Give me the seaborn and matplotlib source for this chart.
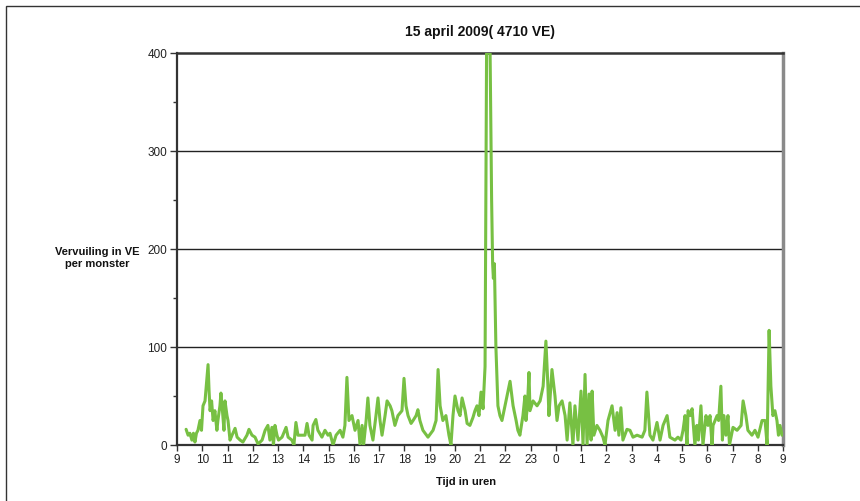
import numpy as np
import pandas as pd
import matplotlib
matplotlib.use("Agg")
import matplotlib.pyplot as plt
from matplotlib.patches import Rectangle
import seaborn as sns

# Time in hours after 9:00 on 15 april, pollution in VE per sample
uren = [
    0.36, 0.44, 0.51, 0.59, 0.65, 0.71, 0.77, 0.83, 0.91, 0.97,
    1.03, 1.11, 1.19, 1.23, 1.27, 1.31, 1.37, 1.43, 1.50, 1.58,
    1.62, 1.70, 1.74, 1.80, 1.86, 1.90, 1.98, 2.02, 2.10, 2.18,
    2.30, 2.38, 2.50, 2.61, 2.77, 2.85, 2.97, 3.09, 3.21, 3.37,
    3.49, 3.60, 3.68, 3.76, 3.82, 3.88, 3.96, 4.02, 4.16, 4.32,
    4.40, 4.55, 4.63, 4.71, 4.79, 4.95, 5.07, 5.15, 5.23, 5.35,
    5.39, 5.50, 5.58, 5.74, 5.86, 5.98,
    6.06, 6.18, 6.30, 6.46, 6.57, 6.65, 6.73, 6.81, 6.93, 7.05,
    7.17, 7.25, 7.33, 7.39, 7.49, 7.56, 7.64, 7.76, 7.88, 7.96,
    8.04, 8.12, 8.24, 8.32, 8.44, 8.51, 8.63, 8.75, 8.91, 8.99,
    9.07, 9.15, 9.27, 9.35, 9.47, 9.54, 9.62, 9.74, 9.94, 10.14,
    10.26, 10.34, 10.42, 10.53, 10.65, 10.77, 10.85, 10.93, 11.01, 11.13,
    11.21, 11.29, 11.41, 11.49, 11.60, 11.72, 11.80, 11.88, 11.96, 12.04,
    12.12, 12.20, 12.26, 12.32, 12.40, 12.46, 12.50, 12.53, 12.57, 12.63,
    12.71, 12.79, 12.87, 12.99, 13.11, 13.19, 13.31, 13.43, 13.50, 13.58,
    13.70, 13.78, 13.82, 13.88, 13.94, 13.98, 14.10, 14.26, 14.38, 14.50,
    14.61, 14.69, 14.73, 14.85, 14.97, 15.05, 15.13, 15.25, 15.37, 15.45,
    15.56, 15.68, 15.76, 15.88, 16.00, 16.08, 16.16, 16.24, 16.32, 16.40,
    16.44, 16.51, 16.63, 16.75, 16.87, 16.95, 17.07, 17.23, 17.35, 17.43,
    17.50, 17.58, 17.66, 17.82, 17.94, 18.06, 18.22, 18.42, 18.53, 18.61,
    18.73, 18.85, 19.01, 19.13, 19.25, 19.41, 19.52, 19.72, 19.84, 19.96,
    20.04, 20.12, 20.20, 20.24, 20.32, 20.40, 20.48, 20.51, 20.59, 20.65,
    20.75, 20.83, 20.95, 21.03, 21.11, 21.19, 21.23, 21.39, 21.45, 21.54,
    21.60, 21.66, 21.74, 21.82, 21.88, 22.02, 22.18, 22.34, 22.42, 22.53,
    22.61, 22.77, 22.89, 23.01, 23.17, 23.29, 23.37, 23.45, 23.52, 23.60,
    23.68, 23.76, 23.82, 23.88, 23.96,
]
vervuiling = [
    16, 10, 12, 5, 12, 3, 12, 15, 25, 15,
    40, 45, 70, 82, 55, 35, 45, 25, 35, 15,
    25, 40, 53, 35, 15, 45, 30, 25, 5, 10,
    17, 8, 5, 3, 10, 16, 10, 8, 1, 5,
    15, 20, 5, 18, 0, 20, 10, 5, 8, 18,
    8, 5, 0, 23, 10, 10, 10, 22, 10, 5,
    20, 26, 15, 8, 15, 10,
    12, 0, 10, 15, 8, 20, 69, 25, 30, 15,
    25, 0, 20, 0, 25, 48, 20, 5, 30, 48,
    25, 10, 30, 45, 40, 35, 20, 30, 35, 68,
    40, 30, 22, 25, 30, 36, 25, 15, 8, 15,
    25, 77, 40, 25, 30, 10, 0, 30, 50, 35,
    30, 48, 35, 22, 20, 28, 35, 40, 30, 54,
    37, 80, 400, 400, 400, 250, 185, 170, 185, 100,
    40, 30, 25, 40, 55, 65, 40, 25, 15, 10,
    30, 50, 25, 40, 74, 35, 45, 40, 45, 60,
    106, 60, 30, 77, 50, 25, 40, 45, 30, 5,
    43, 0, 40, 5, 55, 0, 72, 0, 52, 5,
    55, 10, 20, 15, 8, 0, 25, 40, 15, 33,
    10, 38, 5, 16, 15, 8, 10, 8, 15, 54,
    10, 5, 23, 5, 20, 30, 8, 5, 8, 5,
    15, 30, 0, 35, 30, 37, 10, 0, 20, 5,
    40, 0, 30, 20, 30, 0, 20, 30, 25, 60,
    5, 30, 10, 30, 0, 18, 15, 20, 45, 30,
    15, 10, 15, 8, 25, 25, 0, 117, 60, 30,
    35, 25, 10, 20, 10,
]
uur_labels = [str((9 + i) % 24) for i in range(25)]

df = pd.DataFrame({"uur": uren, "VE": vervuiling})

sns.set_style("white")
plt.rcParams["font.family"] = ["Liberation Sans", "DejaVu Sans"]

fig = plt.figure(figsize=(8.6, 5.02), dpi=100)
ax = fig.add_axes([177 / 860, 1 - 446 / 502, 606 / 860, 392 / 502])

sns.lineplot(data=df, x="uur", y="VE", ax=ax, color="#77c043",
             linewidth=2.2, estimator=None, zorder=3)

ax.set_xlim(0, 24)
ax.set_ylim(0, 400)
ax.set_xticks(range(25))
ax.set_xticklabels(uur_labels, fontsize=8.5, color="#222222")
ax.set_yticks([0, 100, 200, 300, 400])
ax.set_yticklabels(["0", "100", "200", "300", "400"], fontsize=8.5, color="#222222")
ax.set_yticks([50, 150, 250, 350], minor=True)
ax.tick_params(axis="y", which="major", direction="out", length=5, width=1,
               color="#333333", pad=2, left=True)
ax.tick_params(axis="y", which="minor", direction="out", length=3, width=1,
               color="#333333", left=True)
ax.tick_params(axis="x", direction="out", length=4, width=1,
               color="#333333", pad=2, bottom=True)
ax.set_xlabel("")
ax.set_ylabel("")

for yv in [100, 200, 300]:
    ax.axhline(yv, color="#222222", linewidth=1.0, zorder=1)

ax.spines["left"].set_color("#333333")
ax.spines["left"].set_linewidth(1.6)
ax.spines["bottom"].set_color("#333333")
ax.spines["bottom"].set_linewidth(1.6)
ax.spines["top"].set_color("#333333")
ax.spines["top"].set_linewidth(1.8)
ax.spines["right"].set_color("#8a8a8a")
ax.spines["right"].set_linewidth(2.5)

fig.text(480 / 860, 1 - 32 / 502, "15 april 2009( 4710 VE)", ha="center",
         va="center", fontsize=10, fontweight="bold", color="#111111")
fig.text(97 / 860, 1 - 258 / 502, "Vervuiling in VE\nper monster", ha="center",
         va="center", fontsize=8, fontweight="bold", color="#111111",
         linespacing=1.25)
fig.text(466 / 860, 1 - 482 / 502, "Tijd in uren", ha="center", va="center",
         fontsize=8, fontweight="bold", color="#111111")

fig.patches.append(Rectangle((6 / 860, -0.1), 1.2, 1.1 - 7 / 502,
                             transform=fig.transFigure, fill=False,
                             edgecolor="#333333", linewidth=1.0))

fig.savefig("out.png", dpi=100)
